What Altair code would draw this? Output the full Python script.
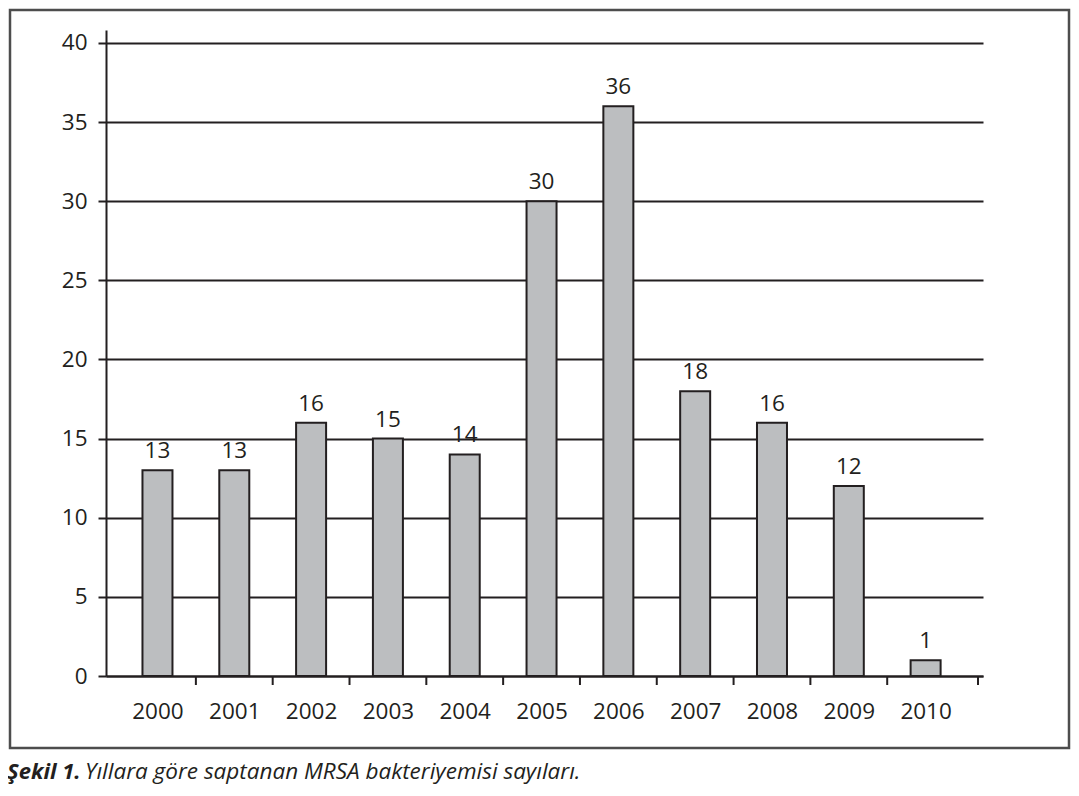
import altair as alt
import pandas as pd

years = [2000, 2001, 2002, 2003, 2004, 2005, 2006, 2007, 2008, 2009, 2010]
counts = [13, 13, 16, 15, 14, 30, 36, 18, 16, 12, 1]
y_ticks = [0, 5, 10, 15, 20, 25, 30, 35, 40]
caption_bold = "Şekil 1."
caption_rest = "Yıllara göre saptanan MRSA bakteriyemisi sayıları."

X_MIN, X_MAX = 1999.395, 2010.682
INK = "#231f20"
FONT = "Open Sans"
FS = 22.5

df = pd.DataFrame({"year": years, "count": counts})
bounds = pd.DataFrame({"b": [y + 0.5 for y in years[:-1]] + [X_MAX]})
one = pd.DataFrame({"a": [0]})

xscale = alt.Scale(domain=[X_MIN, X_MAX], nice=False, zero=False)
yscale = alt.Scale(domain=[0, 40.82], nice=False)
xaxis = alt.Axis(values=years, format="d", ticks=False, grid=False, title=None,
                 labelFontSize=FS, labelFont=FONT, labelColor=INK, labelPadding=24,
                 domainColor=INK, domainWidth=2, labelFlush=False)
yaxis = alt.Axis(values=y_ticks, grid=True, gridColor=INK, gridWidth=2, title=None,
                 tickSize=8, tickWidth=2, tickColor=INK, domainColor=INK, domainWidth=2,
                 labelFontSize=FS, labelFont=FONT, labelColor=INK, labelPadding=11)

bars = alt.Chart(df).mark_bar(size=30, fill="#bcbec0", stroke=INK, strokeWidth=2).encode(
    x=alt.X("year:Q", scale=xscale, axis=xaxis),
    y=alt.Y("count:Q", scale=yscale, axis=yaxis),
)
labels = alt.Chart(df).mark_text(dy=-7, baseline="bottom", fontSize=FS, font=FONT, color=INK).encode(
    x=alt.X("year:Q", scale=xscale, axis=xaxis),
    y=alt.Y("count:Q", scale=yscale, axis=yaxis),
    text=alt.Text("count:Q"),
)
ticks = alt.Chart(bounds).mark_rule(color=INK, strokeWidth=2).encode(
    x=alt.X("b:Q", scale=xscale, axis=xaxis),
    y=alt.value(646),
    y2=alt.value(655),
)
frame = alt.Chart(one).mark_rect(fillOpacity=0, stroke="#4d4d4d", strokeWidth=2.5).encode(
    x=alt.value(-96), x2=alt.value(963), y=alt.value(-20), y2=alt.value(718)
)
cap1 = alt.Chart(one).mark_text(align="left", baseline="alphabetic", fontSize=22, font=FONT,
                                fontStyle="italic", fontWeight="bold", color=INK,
                                text=caption_bold).encode(x=alt.value(-99), y=alt.value(749))
cap2 = alt.Chart(one).mark_text(align="left", baseline="alphabetic", fontSize=22.5, font=FONT,
                                fontStyle="italic", color=INK,
                                text=caption_rest).encode(x=alt.value(-21), y=alt.value(749))

chart = alt.layer(frame, bars, labels, ticks, cap1, cap2).properties(
    width=877, height=646,
    padding={"left": 98, "top": 22, "right": 88, "bottom": 112},
    autosize="none",
).configure_view(stroke=None)

chart.save("out.html", embed_options={"renderer": "svg", "actions": False})
